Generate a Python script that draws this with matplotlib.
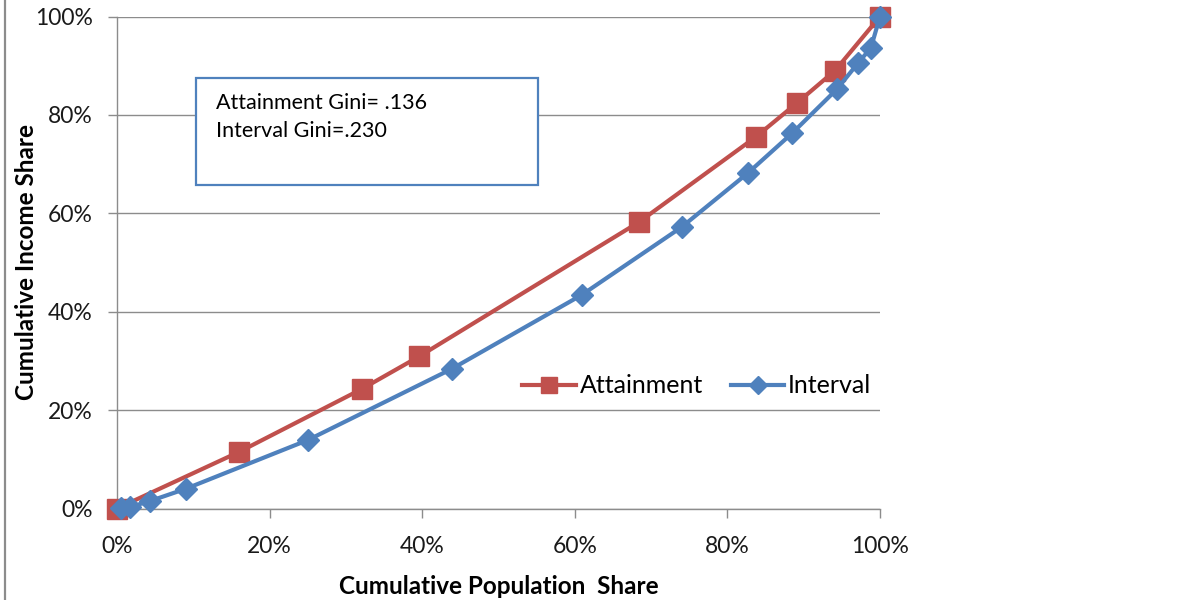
import matplotlib.pyplot as plt
from matplotlib.lines import Line2D
from matplotlib.patches import Rectangle
from matplotlib.ticker import PercentFormatter

# cumulative shares (%)
att_pop = [0.0, 16.0, 32.1, 39.6, 68.4, 83.7, 89.1, 94.1, 100.0]
att_inc = [0.0, 11.5, 24.3, 30.9, 58.2, 75.5, 82.4, 89.0, 100.0]

int_pop = [0.5, 1.7, 4.3, 9.0, 25.0, 43.9, 60.9, 74.0, 82.7, 88.5, 94.4, 97.1, 98.8, 100.0]
int_inc = [0.1, 0.3, 1.5, 4.0, 13.9, 28.4, 43.4, 57.2, 68.2, 76.3, 85.3, 90.5, 93.6, 100.0]

ticks = [0, 20, 40, 60, 80, 100]
box_lines = ['Attainment Gini= .136', 'Interval Gini=.230']

RED = '#C0504D'
BLUE = '#4F81BD'
GRID = '#8C8C8C'

plt.rcParams['font.family'] = ['Lato', 'DejaVu Sans']

fig = plt.figure(figsize=(11.79, 6), dpi=100)
ax = fig.add_axes([117 / 1179, 1 - 508.5 / 600, 763 / 1179, 492 / 600])

ax.plot(att_pop, att_inc, color=RED, lw=3, marker='s', ms=15,
        mec=RED, mfc=RED, label='Attainment', zorder=3, clip_on=False)
ax.plot(int_pop, int_inc, color=BLUE, lw=3, marker='D', ms=11,
        mec=BLUE, mfc=BLUE, label='Interval', zorder=4, clip_on=False)

ax.set_xlim(0, 100)
ax.set_ylim(0, 100)
ax.set_xticks(ticks)
ax.set_yticks(ticks)
ax.xaxis.set_major_formatter(PercentFormatter(decimals=0))
ax.yaxis.set_major_formatter(PercentFormatter(decimals=0))
ax.tick_params(axis='both', direction='out', length=6.5, width=1, color=GRID,
               labelsize=16.5, labelcolor='#1a1a1a')
ax.tick_params(axis='x', pad=13)
ax.tick_params(axis='y', pad=11)
ax.grid(axis='y', color=GRID, lw=1)
ax.set_axisbelow(True)
for s in ['top', 'right']:
    ax.spines[s].set_visible(False)
for s in ['left', 'bottom']:
    ax.spines[s].set_color(GRID)
    ax.spines[s].set_linewidth(1)

ax.set_xlabel('Cumulative Population  Share', fontsize=17.5, fontweight='bold', labelpad=13)
ax.set_ylabel('Cumulative Income Share', fontsize=17.5, fontweight='bold')
ax.yaxis.set_label_coords(-0.104, 0.5)

# annotation box
ax.add_patch(Rectangle((10.35, 65.75), 44.85, 21.75, fill=True, fc='white',
                       ec=BLUE, lw=1.6, zorder=5, clip_on=False))
ax.text(13.0, 82.4, box_lines[0], fontsize=15.5, va='center', zorder=6)
ax.text(13.0, 76.7, box_lines[1], fontsize=15.5, va='center', zorder=6)

leg = ax.legend(loc='center', bbox_to_anchor=(0.76, 0.249), ncol=2, frameon=False,
                fontsize=18, handlelength=2.15, columnspacing=1.1, handletextpad=0.15,
                markerscale=0.8)

# left border of the chart area
fig.add_artist(Line2D([4.5 / 1179, 4.5 / 1179], [0, 1], color='#8C8C8C', lw=1.6))

fig.savefig('out.png', dpi=100)
